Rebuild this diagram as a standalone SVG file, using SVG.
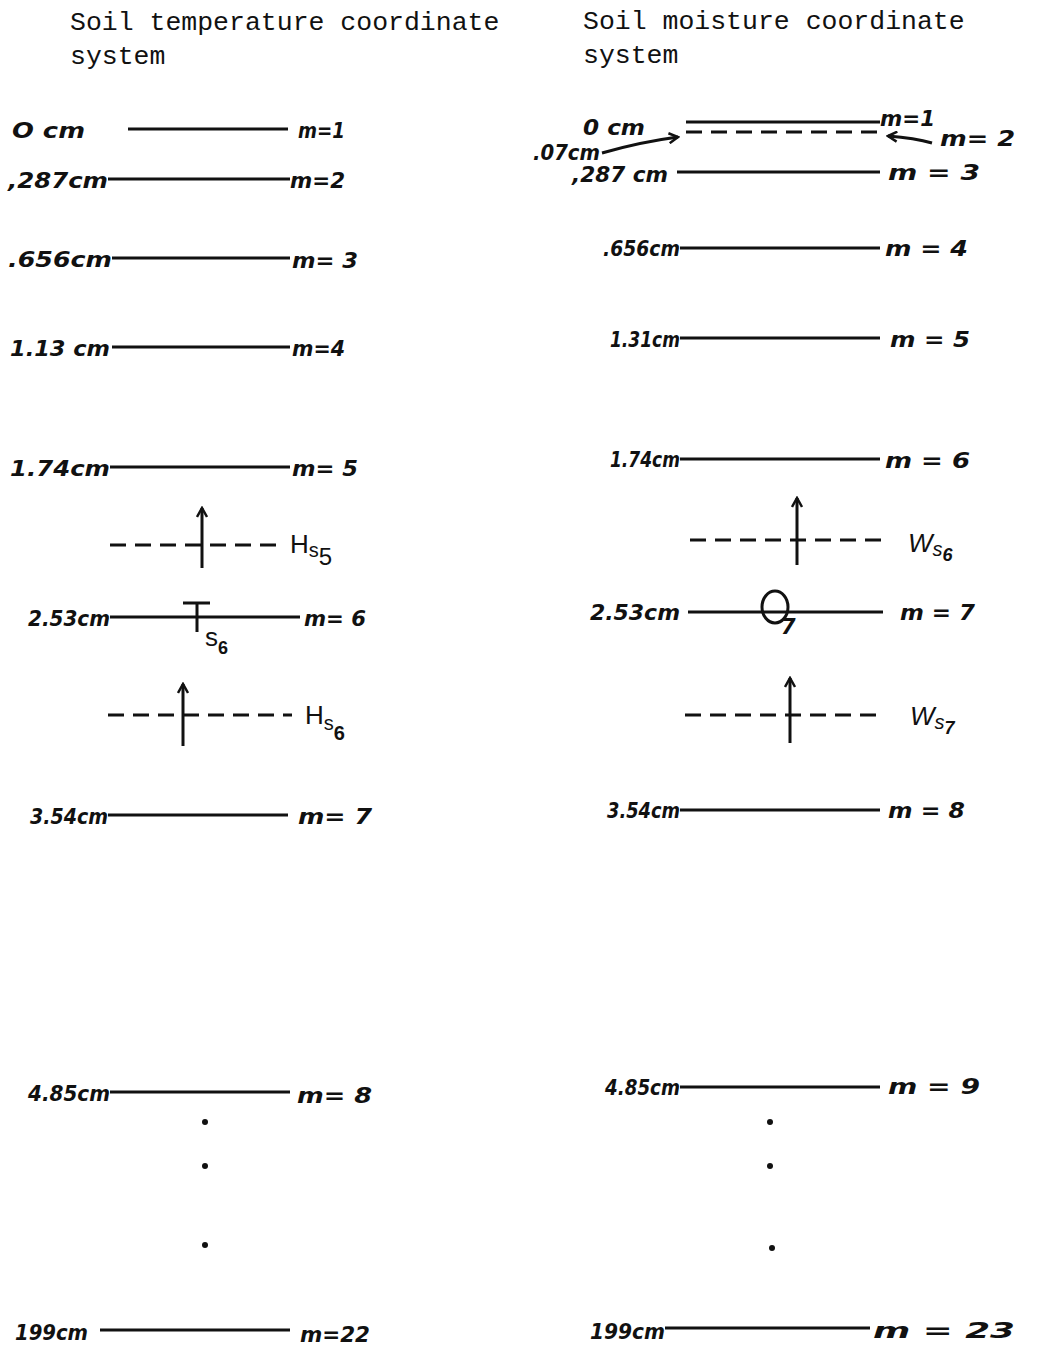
<svg xmlns="http://www.w3.org/2000/svg" width="1040" height="1347" viewBox="0 0 1040 1347">
<style>
.title{font-family:"Liberation Mono","DejaVu Sans Mono",monospace;font-size:26.5px;fill:#111}
.hw{font-family:"DejaVu Sans","Liberation Sans",sans-serif;font-style:italic;font-weight:bold;font-size:21px;fill:#111}
.lbl{font-family:"DejaVu Sans","Liberation Sans",sans-serif;font-style:italic;font-weight:bold;font-size:22px;fill:#111}
.sym{font-family:"Liberation Sans","DejaVu Sans",sans-serif;font-size:26px;fill:#111}
.line{stroke:#111;stroke-width:3;fill:none}
.dash{stroke:#111;stroke-width:3;fill:none;stroke-dasharray:16 9}
.flux{stroke:#111;stroke-width:3;fill:none}
.dot{fill:#111}
</style>
<defs>
<marker id="ah" viewBox="0 0 12 12" refX="10" refY="6" markerWidth="12" markerHeight="12" markerUnits="userSpaceOnUse" orient="auto">
<path d="M1,1 L10,6 L1,11" fill="none" stroke="#111" stroke-width="2.5"/>
</marker>
</defs>
<rect width="1040" height="1347" fill="#fff"/>

<g id="title-temp"><text class="title" x="70" y="30">Soil temperature coordinate</text><text class="title" x="70" y="64">system</text></g>
<g id="title-moist"><text class="title" x="583" y="29">Soil moisture coordinate</text><text class="title" x="583" y="63">system</text></g>

<!-- Left: soil temperature -->
<g id="t-m1"><text class="hw" x="12" y="138" textLength="73" lengthAdjust="spacingAndGlyphs">O cm</text><line class="line" x1="128" y1="129" x2="288" y2="129"/><text class="lbl" x="298" y="138" textLength="47" lengthAdjust="spacingAndGlyphs">m=1</text></g>
<g id="t-m2"><text class="hw" x="8" y="188" textLength="100" lengthAdjust="spacingAndGlyphs">,287cm</text><line class="line" x1="108" y1="179" x2="290" y2="179"/><text class="lbl" x="290" y="188" textLength="55" lengthAdjust="spacingAndGlyphs">m=2</text></g>
<g id="t-m3"><text class="hw" x="8" y="267" textLength="104" lengthAdjust="spacingAndGlyphs">.656cm</text><line class="line" x1="112" y1="258" x2="290" y2="258"/><text class="lbl" x="292" y="268" textLength="66" lengthAdjust="spacingAndGlyphs">m= 3</text></g>
<g id="t-m4"><text class="hw" x="10" y="356" textLength="100" lengthAdjust="spacingAndGlyphs">1.13 cm</text><line class="line" x1="112" y1="347" x2="290" y2="347"/><text class="lbl" x="292" y="356" textLength="53" lengthAdjust="spacingAndGlyphs">m=4</text></g>
<g id="t-m5"><text class="hw" x="10" y="476" textLength="100" lengthAdjust="spacingAndGlyphs">1.74cm</text><line class="line" x1="110" y1="467" x2="290" y2="467"/><text class="lbl" x="292" y="476" textLength="66" lengthAdjust="spacingAndGlyphs">m= 5</text></g>
<g id="t-m6"><text class="hw" x="28" y="626" textLength="82" lengthAdjust="spacingAndGlyphs">2.53cm</text><line class="line" x1="110" y1="617" x2="300" y2="617"/><text class="lbl" x="304" y="626" textLength="62" lengthAdjust="spacingAndGlyphs">m= 6</text>
<path class="line" d="M183,603 L210,603 M197,603 L197,632"/><text class="sym" x="205" y="646" font-size="22">s<tspan dy="8" font-size="18" font-weight="bold">6</tspan></text></g>
<g id="t-m7"><text class="hw" x="30" y="824" textLength="78" lengthAdjust="spacingAndGlyphs">3.54cm</text><line class="line" x1="108" y1="815" x2="288" y2="815"/><text class="lbl" x="298" y="824" textLength="74" lengthAdjust="spacingAndGlyphs">m= 7</text></g>
<g id="t-m8"><text class="hw" x="28" y="1101" textLength="82" lengthAdjust="spacingAndGlyphs">4.85cm</text><line class="line" x1="110" y1="1092" x2="290" y2="1092"/><text class="lbl" x="297" y="1103" textLength="75" lengthAdjust="spacingAndGlyphs">m= 8</text></g>
<g id="t-dots"><circle class="dot" cx="205" cy="1122" r="3"/><circle class="dot" cx="205" cy="1166" r="3"/><circle class="dot" cx="205" cy="1245" r="3"/></g>
<g id="t-m22"><text class="hw" x="15" y="1340" textLength="73" lengthAdjust="spacingAndGlyphs">199cm</text><line class="line" x1="100" y1="1330" x2="290" y2="1330"/><text class="lbl" x="300" y="1342" textLength="70" lengthAdjust="spacingAndGlyphs">m=22</text></g>
<g id="t-Hs5"><line class="dash" x1="110" y1="545" x2="284" y2="545"/><text class="sym" x="290" y="553">H<tspan dy="4" font-size="20">s</tspan><tspan dy="8" font-size="24">5</tspan></text></g>
<g id="t-Hs6"><line class="dash" x1="108" y1="715" x2="292" y2="715"/><text class="sym" x="305" y="724">H<tspan dy="6" font-size="20">s</tspan><tspan dy="10" font-size="20" font-weight="bold">6</tspan></text></g>

<!-- Right: soil moisture -->
<g id="w-m1"><text class="hw" x="583" y="135" textLength="62" lengthAdjust="spacingAndGlyphs">0 cm</text><line class="line" x1="686" y1="122" x2="880" y2="122"/><text class="lbl" x="880" y="126" font-size="18" textLength="55" lengthAdjust="spacingAndGlyphs">m=1</text></g>
<g id="w-m2"><text class="hw" x="533" y="160" font-size="18" textLength="67" lengthAdjust="spacingAndGlyphs">.07cm</text><line class="dash" x1="686" y1="132" x2="880" y2="132"/><text class="lbl" x="940" y="146" textLength="75" lengthAdjust="spacingAndGlyphs">m= 2</text></g>
<g id="w-m3"><text class="hw" x="572" y="182" font-size="18" textLength="96" lengthAdjust="spacingAndGlyphs">,287 cm</text><line class="line" x1="677" y1="172" x2="880" y2="172"/><text class="lbl" x="888" y="180" textLength="92" lengthAdjust="spacingAndGlyphs">m = 3</text></g>
<g id="w-m4"><text class="hw" x="603" y="256" textLength="77" lengthAdjust="spacingAndGlyphs">.656cm</text><line class="line" x1="680" y1="248" x2="880" y2="248"/><text class="lbl" x="885" y="256" textLength="83" lengthAdjust="spacingAndGlyphs">m = 4</text></g>
<g id="w-m5"><text class="hw" x="610" y="347" textLength="70" lengthAdjust="spacingAndGlyphs">1.31cm</text><line class="line" x1="680" y1="338" x2="880" y2="338"/><text class="lbl" x="890" y="347" textLength="80" lengthAdjust="spacingAndGlyphs">m = 5</text></g>
<g id="w-m6"><text class="hw" x="610" y="467" textLength="70" lengthAdjust="spacingAndGlyphs">1.74cm</text><line class="line" x1="680" y1="459" x2="880" y2="459"/><text class="lbl" x="885" y="468" textLength="85" lengthAdjust="spacingAndGlyphs">m = 6</text></g>
<g id="w-m7"><text class="hw" x="590" y="620" textLength="90" lengthAdjust="spacingAndGlyphs">2.53cm</text><line class="line" x1="688" y1="612" x2="883" y2="612"/><text class="lbl" x="900" y="620" textLength="75" lengthAdjust="spacingAndGlyphs">m = 7</text>
<ellipse cx="775" cy="607" rx="13" ry="16" fill="none" stroke="#111" stroke-width="3"/><text class="hw" x="781" y="634" font-size="16">7</text></g>
<g id="w-m8"><text class="hw" x="607" y="818" textLength="73" lengthAdjust="spacingAndGlyphs">3.54cm</text><line class="line" x1="680" y1="810" x2="880" y2="810"/><text class="lbl" x="888" y="818" textLength="77" lengthAdjust="spacingAndGlyphs">m = 8</text></g>
<g id="w-m9"><text class="hw" x="605" y="1095" textLength="75" lengthAdjust="spacingAndGlyphs">4.85cm</text><line class="line" x1="680" y1="1087" x2="880" y2="1087"/><text class="lbl" x="888" y="1094" textLength="92" lengthAdjust="spacingAndGlyphs">m = 9</text></g>
<g id="w-dots"><circle class="dot" cx="770" cy="1122" r="3"/><circle class="dot" cx="770" cy="1166" r="3"/><circle class="dot" cx="772" cy="1248" r="3"/></g>
<g id="w-m23"><text class="hw" x="590" y="1339" textLength="75" lengthAdjust="spacingAndGlyphs">199cm</text><line class="line" x1="665" y1="1328" x2="870" y2="1328"/><text class="lbl" x="873" y="1338" font-size="27" textLength="142" lengthAdjust="spacingAndGlyphs">m = 23</text></g>
<g id="w-Ws6"><line class="dash" x1="690" y1="540" x2="882" y2="540"/><text class="sym" x="908" y="552" font-style="italic">W<tspan dy="4" font-size="20">s</tspan><tspan dy="5" font-size="18" font-weight="bold">6</tspan></text></g>
<g id="w-Ws7"><line class="dash" x1="685" y1="715" x2="885" y2="715"/><text class="sym" x="910" y="725" font-style="italic">W<tspan dy="4" font-size="20">s</tspan><tspan dy="5" font-size="18" font-weight="bold">7</tspan></text></g>

<g id="connectors">
<line class="flux" x1="202" y1="568" x2="202" y2="508" marker-end="url(#ah)"/>
<line class="flux" x1="183" y1="746" x2="183" y2="684" marker-end="url(#ah)"/>
<line class="flux" x1="797" y1="565" x2="797" y2="498" marker-end="url(#ah)"/>
<line class="flux" x1="790" y1="743" x2="790" y2="678" marker-end="url(#ah)"/>
<path class="flux" d="M602,153 Q640,142 678,137" marker-end="url(#ah)"/>
<path class="flux" d="M932,143 Q915,138 888,136" marker-end="url(#ah)"/>
</g>
</svg>
